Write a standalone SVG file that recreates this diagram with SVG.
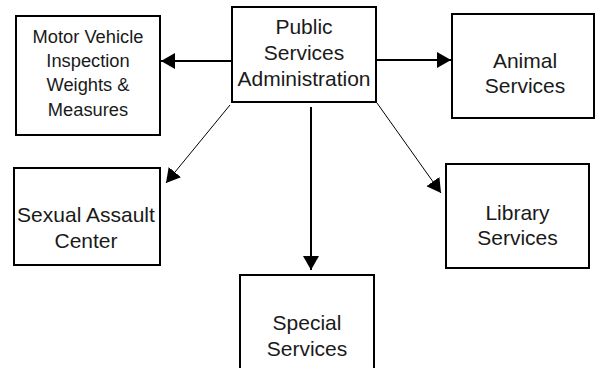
<svg xmlns="http://www.w3.org/2000/svg" width="596" height="368" viewBox="0 0 596 368">
<style>
.box{fill:#fff;stroke:#000;stroke-width:2}
.t{font-family:"Liberation Sans",Arial,sans-serif;font-size:21px;fill:#1a1a1a;text-anchor:middle}
.s{font-size:18.3px}
.thick{stroke:#000;stroke-width:2;fill:none}
.thin{stroke:#000;stroke-width:1;fill:none}
</style>
<defs>
<marker id="ah" markerUnits="userSpaceOnUse" markerWidth="14" markerHeight="16" refX="14" refY="8" orient="auto" viewBox="0 0 14 16">
<path d="M0,0 L14,8 L0,16 z" fill="#000"/>
</marker>
</defs>
<rect width="596" height="368" fill="#fff"/>
<g id="connectors">
<line class="thick" x1="232" y1="61" x2="161" y2="61" marker-end="url(#ah)"/>
<line class="thick" x1="376" y1="60" x2="451" y2="60" marker-end="url(#ah)"/>
<line class="thick" x1="311" y1="107" x2="311" y2="270" marker-end="url(#ah)"/>
<line class="thin" x1="230" y1="105" x2="166" y2="183" marker-end="url(#ah)"/>
<line class="thin" x1="377" y1="103" x2="441" y2="193" marker-end="url(#ah)"/>
</g>
<g id="psa">
<rect class="box" x="232" y="7" width="144" height="95"/>
<text class="t" x="304" y="34">Public</text>
<text class="t" x="304" y="60">Services</text>
<text class="t" x="304" y="86">Administration</text>
</g>
<g id="mvi">
<rect class="box" x="16" y="16" width="144" height="119"/>
<text class="t s" x="88" y="43">Motor Vehicle</text>
<text class="t s" x="88" y="67">Inspection</text>
<text class="t s" x="88" y="91">Weights &amp;</text>
<text class="t s" x="88" y="116">Measures</text>
</g>
<g id="animal">
<rect class="box" x="452" y="14" width="142" height="104"/>
<text class="t" x="525" y="68">Animal</text>
<text class="t" x="525" y="93">Services</text>
</g>
<g id="sexual">
<rect class="box" x="14" y="168" width="146" height="97"/>
<text class="t" x="86" y="222">Sexual Assault</text>
<text class="t" x="86" y="248">Center</text>
</g>
<g id="library">
<rect class="box" x="446" y="164" width="143" height="104"/>
<text class="t" x="517.5" y="220">Library</text>
<text class="t" x="517.5" y="245">Services</text>
</g>
<g id="special">
<rect class="box" x="240" y="275" width="134" height="105"/>
<text class="t" x="307" y="330">Special</text>
<text class="t" x="307" y="356">Services</text>
</g>
</svg>
